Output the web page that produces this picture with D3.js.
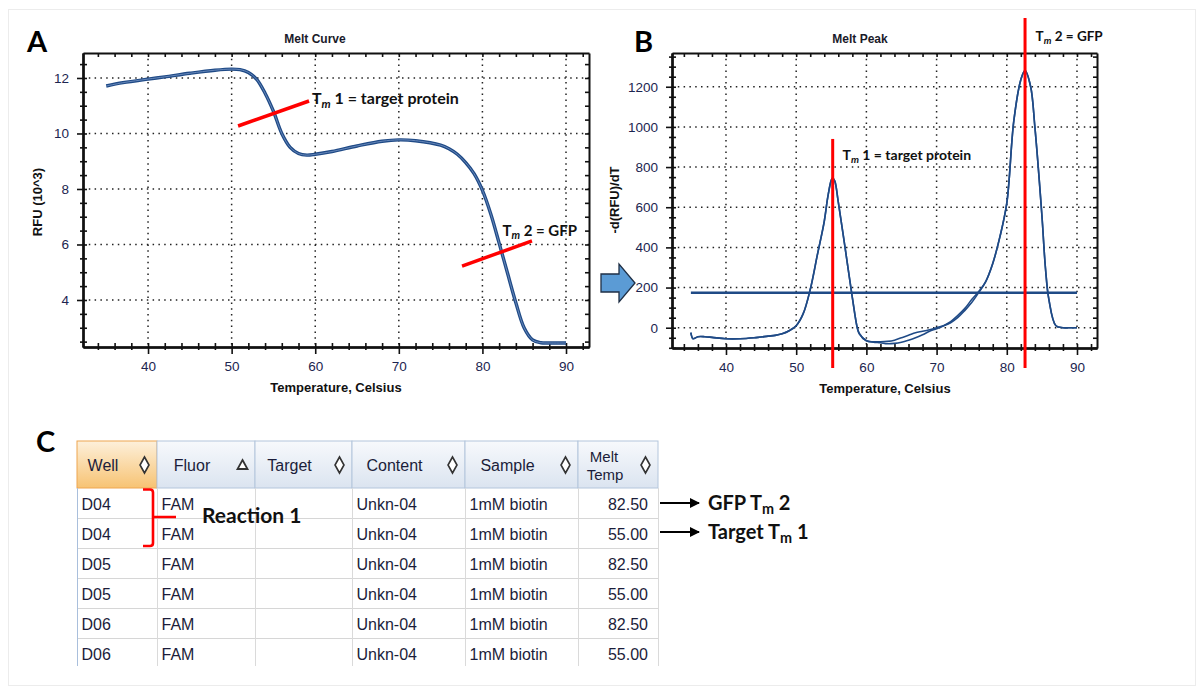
<!DOCTYPE html>
<html>
<head>
<meta charset="utf-8">
<script src="https://cdn.jsdelivr.net/npm/d3@7"></script>
<style>
  body { margin: 0; background: #fff; }
  svg text { font-family: "Liberation Sans", Arial, sans-serif; }
</style>
</head>
<body>
<div id="container"></div>
<script>
// ---- data ----

// A: melt curve (temperature, RFU x 10^3)
let meltTemp = [35, 37, 40, 42, 45, 48, 50, 51, 52, 53, 54, 55, 56, 57, 58, 59, 60, 62, 65, 68, 70, 72, 75, 76, 77, 78, 79, 80, 81, 82, 83, 84, 85, 86, 87, 88, 90]
let meltRfu  = [11.71, 11.83, 11.96, 12.04, 12.17, 12.28, 12.32, 12.3, 12.2, 11.95, 11.45, 10.8, 10.0, 9.5, 9.28, 9.22, 9.25, 9.35, 9.55, 9.72, 9.77, 9.74, 9.58, 9.45, 9.25, 8.95, 8.55, 7.95, 7.1, 6.05, 4.97, 3.9, 2.99, 2.56, 2.46, 2.45, 2.45]

// B: melt peak, two replicate traces (temperature, -d(RFU)/dT)
let peakTemp = [35, 35.3, 36, 37, 38, 40, 42, 44, 46, 47, 48, 49, 50, 51, 52, 53, 54, 54.5, 55, 55.2, 55.5, 56, 57, 58, 58.7, 59, 60, 61, 62, 63, 64, 65, 66, 67, 68, 69, 70, 71, 72, 73, 74, 75, 76, 77, 78, 79, 80, 81, 82, 82.6, 83.4, 84, 85, 85.5, 86, 87, 88, 89, 90]
let peakRep1 = [-25, -55, -45, -45, -48, -55, -55, -50, -42, -38, -30, -15, 10, 70, 190, 360, 530, 650, 735, 745, 730, 625, 390, 150, 0, -30, -65, -70, -70, -68, -62, -50, -38, -25, -18, -10, 0, 10, 25, 50, 85, 125, 175, 230, 320, 450, 620, 1030, 1235, 1280, 1200, 1000, 560, 300, 140, 10, 0, 0, 0]
let peakRep2 = [-25, -55, -45, -45, -48, -55, -55, -50, -42, -38, -30, -15, 10, 70, 190, 360, 530, 650, 735, 745, 730, 625, 390, 150, 0, -30, -65, -72, -75, -80, -78, -72, -62, -50, -35, -18, -5, 10, 30, 60, 95, 140, 180, 230, 320, 450, 620, 1030, 1235, 1280, 1200, 1000, 560, 300, 140, 10, 0, 0, 0]
let peakThreshold = 174
let peakTm = [55.2, 82.6]

// axis ticks
let meltXMajor = [40, 50, 60, 70, 80, 90]
let meltXMinor = d3.range(34, 93, 2)
let meltYMajor = [4, 6, 8, 10, 12]
let meltYMinor = d3.range(2.5, 12.9, 0.5)
let peakXMajor = [40, 50, 60, 70, 80, 90]
let peakXMinor = d3.range(34, 93, 2)
let peakYMajor = [0, 200, 400, 600, 800, 1000, 1200]
let peakYMinor = d3.range(-100, 1351, 50)

// C: results table
let columns  = ["Well", "Fluor", "Target", "Content", "Sample", "Melt Temp"]
let wells    = ["D04", "D04", "D05", "D05", "D06", "D06"]
let fluors   = ["FAM", "FAM", "FAM", "FAM", "FAM", "FAM"]
let targets  = ["", "", "", "", "", ""]
let contents = ["Unkn-04", "Unkn-04", "Unkn-04", "Unkn-04", "Unkn-04", "Unkn-04"]
let samples  = ["1mM biotin", "1mM biotin", "1mM biotin", "1mM biotin", "1mM biotin", "1mM biotin"]
let meltTemps = [82.50, 55.00, 82.50, 55.00, 82.50, 55.00]

//Width and height
let w = 1203
let h = 695
let lineBlue = "#1f4a86"
let tickColor = "#1c2550"

let svg = d3.select("#container")
  .append("svg")
  .attr("width", w)
  .attr("height", h)

let defs = svg.append("defs")

// faint frame around the whole figure
svg.append("rect")
  .attr("x", 8.5).attr("y", 9.5)
  .attr("width", 1187).attr("height", 676)
  .attr("fill", "none").attr("stroke", "#ececec")

// Builds a plot frame with dotted grid and instrument style ticks
function makePanel(id, box, xDom, yDom, xMajor, xMinor, yMajor, yMinor) {
  let x = d3.scaleLinear().domain(xDom).range([box.l, box.r])
  let y = d3.scaleLinear().domain(yDom).range([box.b, box.t])
  let g = svg.append("g")

  defs.append("clipPath").attr("id", id)
    .append("rect")
    .attr("x", box.l).attr("y", box.t)
    .attr("width", box.r - box.l).attr("height", box.b - box.t)

  // dotted grid
  g.append("g").selectAll("line")
    .data(xMajor)
    .enter()
    .append("line")
      .attr("x1", d => x(d)).attr("x2", d => x(d))
      .attr("y1", box.t).attr("y2", box.b)
      .attr("stroke", "#222").attr("stroke-width", 1.5)
      .attr("stroke-dasharray", "1.5,4.3")
  g.append("g").selectAll("line")
    .data(yMajor)
    .enter()
    .append("line")
      .attr("x1", box.l).attr("x2", box.r)
      .attr("y1", d => y(d)).attr("y2", d => y(d))
      .attr("stroke", "#222").attr("stroke-width", 1.5)
      .attr("stroke-dasharray", "1.5,4.3")

  // top and right: small ticks pointing inward
  g.append("g")
    .attr("transform", "translate(0," + box.t + ")")
    .call(d3.axisBottom(x).tickValues(xMinor).tickSize(4).tickSizeOuter(0).tickFormat(""))
  g.append("g")
    .attr("transform", "translate(" + box.r + ",0)")
    .call(d3.axisLeft(y).tickValues(yMinor).tickSize(4).tickSizeOuter(0).tickFormat(""))

  // bottom: ticks crossing the axis line
  g.append("g")
    .attr("transform", "translate(0," + box.b + ")")
    .call(d3.axisTop(x).tickValues(xMinor).tickSize(4).tickSizeOuter(0).tickFormat(""))
  g.append("g")
    .attr("transform", "translate(0," + box.b + ")")
    .call(d3.axisBottom(x).tickValues(xMinor.filter(v => !xMajor.includes(v))).tickSize(3).tickSizeOuter(0).tickFormat(""))
  g.append("g")
    .attr("class", "xlab")
    .attr("transform", "translate(0," + box.b + ")")
    .call(d3.axisBottom(x).tickValues(xMajor).tickSize(7).tickPadding(7).tickSizeOuter(0).tickFormat(d3.format("d")))

  // left: ticks crossing the axis line
  g.append("g")
    .attr("transform", "translate(" + box.l + ",0)")
    .call(d3.axisRight(y).tickValues(yMinor).tickSize(4).tickSizeOuter(0).tickFormat(""))
  g.append("g")
    .attr("transform", "translate(" + box.l + ",0)")
    .call(d3.axisLeft(y).tickValues(yMinor.filter(v => !yMajor.includes(v))).tickSize(3).tickSizeOuter(0).tickFormat(""))
  g.append("g")
    .attr("class", "ylab")
    .attr("transform", "translate(" + box.l + ",0)")
    .call(d3.axisLeft(y).tickValues(yMajor).tickSize(6).tickPadding(8).tickSizeOuter(0).tickFormat(d3.format("d")))

  g.selectAll(".domain").attr("stroke", "#111").attr("stroke-width", 2)
  g.selectAll(".tick line").attr("stroke", "#111").attr("stroke-width", 1.6)
  g.selectAll(".tick text")
    .attr("fill", tickColor)
    .style("font-size", "13.5px")
    .style("font-family", "'Liberation Sans', Arial, sans-serif")

  return { x: x, y: y, g: g }
}

function addText(px, py, str, opts) {
  let t = svg.append("text")
    .attr("x", px).attr("y", py)
    .attr("font-size", opts.size)
    .attr("font-weight", opts.weight || "bold")
    .attr("text-anchor", opts.anchor || "start")
    .attr("fill", opts.fill || "#111")
    .text(str)
  if (opts.font) t.style("font-family", opts.font)
  if (opts.rotate) t.attr("transform", "rotate(-90," + px + "," + py + ")")
  return t
}

// "Tm n = ..." labels with subscript m
function tmLabel(px, py, before, after, size, italic) {
  let t = svg.append("text")
    .attr("x", px).attr("y", py)
    .attr("font-size", size)
    .attr("font-weight", "bold")
    .attr("fill", "#111")
    .style("font-family", "Lato, 'Open Sans', sans-serif")
  t.append("tspan").text(before + "T")
  t.append("tspan")
    .attr("font-size", size * 0.72)
    .attr("font-style", italic ? "italic" : "normal")
    .attr("dy", size * 0.22)
    .text("m")
  t.append("tspan").attr("dy", -size * 0.22).text(after)
}

let calibri = "Lato, 'Open Sans', sans-serif"

//// Panel A - melt curve
let A = makePanel("clipA", { l: 83, t: 53, r: 589, b: 347 }, [32.22, 92.75], [2.306, 12.9],
  meltXMajor, meltXMinor, meltYMajor, meltYMinor)

let meltLine = d3.line()
  .x((d, i) => A.x(meltTemp[i]))
  .y(d => A.y(d))
  .curve(d3.curveCatmullRom.alpha(0.5))

A.g.append("path")
  .datum(meltRfu)
  .attr("clip-path", "url(#clipA)")
  .attr("d", meltLine)
  .attr("fill", "none").attr("stroke", lineBlue).attr("stroke-width", 3.4)
A.g.append("path")
  .datum(meltRfu)
  .attr("clip-path", "url(#clipA)")
  .attr("d", meltLine)
  .attr("fill", "none").attr("stroke", "#6f8fc0").attr("stroke-width", 0.9)

// red Tm markers across the transitions
svg.append("line")
  .attr("x1", A.x(50.77)).attr("y1", A.y(10.27))
  .attr("x2", A.x(59.26)).attr("y2", A.y(11.17))
  .attr("stroke", "#ff0000").attr("stroke-width", 3.5)
svg.append("line")
  .attr("x1", A.x(77.56)).attr("y1", A.y(5.22))
  .attr("x2", A.x(85.93)).attr("y2", A.y(6.13))
  .attr("stroke", "#ff0000").attr("stroke-width", 3.5)
tmLabel(A.x(59.6), A.y(11.05), "", " 1 = target protein", 16, true)
tmLabel(A.x(82.4), A.y(6.3), "", " 2 = GFP", 15, true)

addText(315, 43, "Melt Curve", { size: 12, anchor: "middle", fill: "#1a1a2a" })
addText(336, 392, "Temperature, Celsius", { size: 13, anchor: "middle", fill: "#111" })
addText(42, 202, "RFU (10^3)", { size: 13, anchor: "middle", fill: "#111", rotate: true })
addText(27, 52, "A", { size: 29, font: calibri, fill: "#000" })

//// Panel B - melt peak
let B = makePanel("clipB", { l: 672, t: 53, r: 1097, b: 348 }, [32.31, 92.85], [-101, 1368],
  peakXMajor, peakXMinor, peakYMajor, peakYMinor)

let peakLine = d3.line()
  .x((d, i) => B.x(peakTemp[i]))
  .y(d => B.y(d))
  .curve(d3.curveCatmullRom.alpha(0.5))

B.g.append("line")
  .attr("x1", B.x(35)).attr("x2", B.x(90))
  .attr("y1", B.y(peakThreshold)).attr("y2", B.y(peakThreshold))
  .attr("stroke", lineBlue).attr("stroke-width", 2.6)

B.g.selectAll(".rep")
  .data([peakRep1, peakRep2])
  .enter()
  .append("path")
    .attr("class", "rep")
    .attr("clip-path", "url(#clipB)")
    .attr("d", peakLine)
    .attr("fill", "none").attr("stroke", lineBlue).attr("stroke-width", 1.6)

svg.selectAll(".tmline")
  .data(peakTm)
  .enter()
  .append("line")
    .attr("class", "tmline")
    .attr("x1", d => B.x(d)).attr("x2", d => B.x(d))
    .attr("y1", (d, i) => i == 0 ? B.y(940) : 18)
    .attr("y2", 368)
    .attr("stroke", "#ff0000").attr("stroke-width", 3)

tmLabel(B.x(56.6), B.y(835), "", " 1 = target protein", 14, true)
tmLabel(B.x(84.1), 41, "", " 2 = GFP", 13.5, true)

addText(860, 43, "Melt Peak", { size: 12, anchor: "middle", fill: "#1a1a2a" })
addText(885, 393, "Temperature, Celsius", { size: 13, anchor: "middle", fill: "#111" })
addText(619, 200, "-d(RFU)/dT", { size: 13, anchor: "middle", fill: "#111", rotate: true })
addText(634, 52, "B", { size: 29, font: calibri, fill: "#000" })

// block arrow between the panels
svg.append("path")
  .attr("d", "M601,274 L619,274 L619,264 L635,283 L619,302 L619,292 L601,292 Z")
  .attr("fill", "#5b9bd5").attr("stroke", "#1f2f45").attr("stroke-width", 1.3)

//// Panel C - results table
addText(36, 452, "C", { size: 29, font: calibri, fill: "#000" })

let colEdges = [77, 157, 255, 352, 465, 578, 658]
let headTop = 441, headBot = 488, rowH = 30

let gradBlue = defs.append("linearGradient").attr("id", "hdrBlue").attr("x1", 0).attr("y1", 0).attr("x2", 0).attr("y2", 1)
gradBlue.append("stop").attr("offset", "0%").attr("stop-color", "#f7f9fc")
gradBlue.append("stop").attr("offset", "100%").attr("stop-color", "#dbe4f0")
let gradOrange = defs.append("linearGradient").attr("id", "hdrOrange").attr("x1", 0).attr("y1", 0).attr("x2", 0).attr("y2", 1)
gradOrange.append("stop").attr("offset", "0%").attr("stop-color", "#fdf0db")
gradOrange.append("stop").attr("offset", "100%").attr("stop-color", "#f7c373")

let table = svg.append("g")

// header cells
table.selectAll(".hdr")
  .data(columns)
  .enter()
  .append("rect")
    .attr("class", "hdr")
    .attr("x", (d, i) => colEdges[i]).attr("y", headTop)
    .attr("width", (d, i) => colEdges[i + 1] - colEdges[i])
    .attr("height", headBot - headTop)
    .attr("fill", (d, i) => i == 0 ? "url(#hdrOrange)" : "url(#hdrBlue)")
    .attr("stroke", (d, i) => i == 0 ? "#eea650" : "#b4c6dc")
    .attr("stroke-width", 1)

// body grid
let rowIdx = d3.range(wells.length)
table.selectAll(".hline")
  .data(rowIdx)
  .enter()
  .append("line")
    .attr("x1", colEdges[0]).attr("x2", colEdges[6])
    .attr("y1", d => headBot + (d + 1) * rowH + 0.5)
    .attr("y2", d => headBot + (d + 1) * rowH + 0.5)
    .attr("stroke", d => d == wells.length - 1 ? "none" : "#d6d6d6")
table.selectAll(".vline")
  .data(colEdges)
  .enter()
  .append("line")
    .attr("x1", d => d + 0.5).attr("x2", d => d + 0.5)
    .attr("y1", headBot).attr("y2", headBot + wells.length * rowH - 2)
    .attr("stroke", (d, i) => i == 0 ? "#a9bfdc" : "#dadada")

// header labels
let headFont = "'Liberation Sans', Arial, sans-serif"
columns.forEach(function(c, i) {
  let cx = (colEdges[i] + colEdges[i + 1] - 28) / 2
  if (c == "Melt Temp") {
    addText(cx, 462, "Melt", { size: 15, weight: "normal", anchor: "middle", fill: "#1b1d3a", font: headFont })
    addText(cx + 1, 480, "Temp", { size: 15, weight: "normal", anchor: "middle", fill: "#1b1d3a", font: headFont })
  } else {
    addText(cx, 471, c, { size: 16, weight: "normal", anchor: "middle", fill: "#1b1d3a", font: headFont })
  }
  let ix = colEdges[i + 1] - 12.5
  let iy = 465
  if (c == "Fluor") {
    table.append("path")
      .attr("d", "M" + ix + "," + (iy - 5) + " L" + (ix + 5) + "," + (iy + 4) + " L" + (ix - 5) + "," + (iy + 4) + " Z")
      .attr("fill", "#fff").attr("stroke", "#333").attr("stroke-width", 1.8)
  } else {
    table.append("path")
      .attr("d", "M" + ix + "," + (iy - 8) + " L" + (ix + 4.5) + "," + iy + " L" + ix + "," + (iy + 8) + " L" + (ix - 4.5) + "," + iy + " Z")
      .attr("fill", "#fff").attr("stroke", "#333").attr("stroke-width", 1.6)
  }
})

// body cells
let cellCols = [wells, fluors, targets, contents, samples, meltTemps.map(v => v.toFixed(2))]
cellCols.forEach(function(vals, c) {
  table.selectAll(".c" + c)
    .data(vals)
    .enter()
    .append("text")
      .attr("class", "c" + c)
      .attr("x", c == 5 ? colEdges[6] - 10 : colEdges[c] + 4.5)
      .attr("y", (d, i) => headBot + i * rowH + 22)
      .attr("text-anchor", c == 5 ? "end" : "start")
      .attr("font-size", 16)
      .attr("fill", "#1b1d3a")
      .style("font-family", headFont)
      .text(d => d)
})

// red bracket grouping reaction 1
let bTop = headBot + 1.5, bBot = headBot + 2 * rowH - 2
table.append("path")
  .attr("d", "M143," + bTop + " L150," + bTop + " Q153," + bTop + " 153," + (bTop + 3) +
             " L153," + (bBot - 3) + " Q153," + bBot + " 150," + bBot + " L143," + bBot +
             " M153," + (headBot + rowH - 1) + " L176," + (headBot + rowH - 1))
  .attr("fill", "none").attr("stroke", "#ff0000").attr("stroke-width", 2.6)
addText(202, 523, "Reaction 1", { size: 21, font: calibri, fill: "#111" })

// arrows to the Tm callouts
defs.append("marker")
  .attr("id", "arrowHead")
  .attr("viewBox", "0 0 10 10").attr("refX", 9).attr("refY", 5)
  .attr("markerWidth", 5).attr("markerHeight", 5)
  .attr("orient", "auto")
  .append("path").attr("d", "M0,0 L10,5 L0,10 Z").attr("fill", "#000")

let calloutY = [503, 532]
svg.selectAll(".callout")
  .data(calloutY)
  .enter()
  .append("line")
    .attr("class", "callout")
    .attr("x1", 660).attr("x2", 699)
    .attr("y1", d => d).attr("y2", d => d)
    .attr("stroke", "#000").attr("stroke-width", 2)
    .attr("marker-end", "url(#arrowHead)")
tmLabel(708, 510, "GFP ", " 2", 20, false)
tmLabel(708, 539, "Target ", " 1", 20, false)
</script>
</body>
</html>
